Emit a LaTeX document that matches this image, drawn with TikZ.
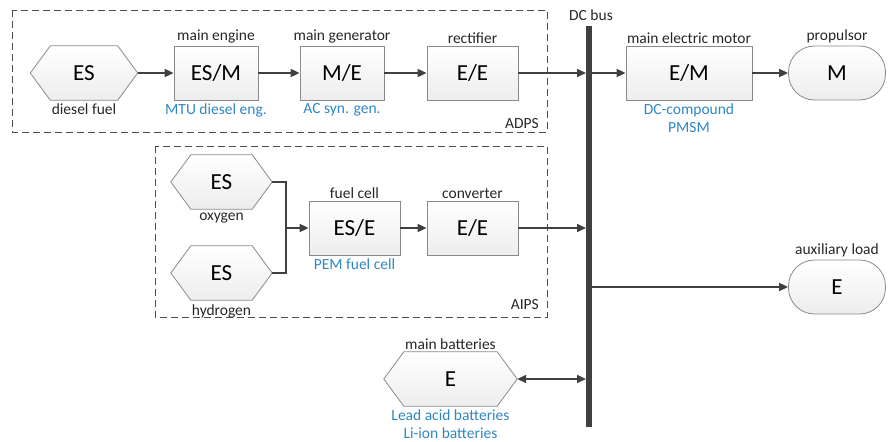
\documentclass[tikz,border=0pt]{standalone}
\usepackage{fontspec}
\setmainfont{Carlito}
\usetikzlibrary{arrows.meta,positioning}
\definecolor{ln}{HTML}{404040}
\definecolor{bd}{HTML}{8A8A8A}
\definecolor{blu}{HTML}{2F86C4}
\tikzset{
  blockbox/.style={draw=bd, line width=0.8pt, top color=white, bottom color=gray!14, minimum width=#1, minimum height=54, inner sep=0pt, font=\fontsize{23}{26}\selectfont},
  blockbox/.default=84,
  hexnode/.style={minimum width=#1, minimum height=54, inner sep=0pt, font=\fontsize{23}{26}\selectfont},
  hexnode/.default=107,
  hexfill/.style={draw=bd, line width=0.8pt, top color=white, bottom color=gray!14},
  stadium/.style={draw=bd, line width=0.8pt, top color=white, bottom color=gray!14, rounded corners=26, minimum width=97, minimum height=54, inner sep=0pt, font=\fontsize{23}{26}\selectfont},
  lab/.style={font=\fontsize{15.5}{18}\selectfont, text=black!85, inner sep=1pt},
  blab/.style={font=\fontsize{15.5}{18}\selectfont, text=blu, inner sep=1pt, align=center},
  conn/.style={draw=ln, line width=1.8pt, -{Triangle[length=9pt,width=8pt]}},
  plain/.style={draw=ln, line width=1.8pt},
  dconn/.style={draw=ln, line width=1.8pt, {Triangle[length=9pt,width=8pt]}-{Triangle[length=9pt,width=8pt]}},
  group/.style={draw=black!70, line width=0.9pt, dash pattern=on 7pt off 4pt},
  busline/.style={draw=ln, line width=5.5pt}
}
\newcommand\hexdraw[1]{\path[hexfill] (#1.west) -- ([xshift=20pt]#1.north west) -- ([xshift=-20pt]#1.north east) -- (#1.east) -- ([xshift=-20pt]#1.south east) -- ([xshift=20pt]#1.south west) -- cycle;}
\begin{document}
\begin{tikzpicture}[x=1pt,y=-1pt]
\useasboundingbox (0,0) rectangle (890,441);
% group boxes
\draw[group] (12,10) rectangle (547,132);
\draw[group] (155,146) rectangle (547,317);
\node[lab, anchor=east] (adps) at (540,124) {ADPS};
\node[lab, anchor=east] (aips) at (540,305) {AIPS};
% bus
\coordinate (bustop) at (589,26);
\coordinate (busbot) at (589,427);
\draw[busline] (bustop) -- (busbot);
\node[lab] (dcbus) at (591,15) {DC bus};
\coordinate (bin1) at (586,73);
\coordinate (bout1) at (592,73);
\coordinate (bin2) at (586,228);
\coordinate (bout3) at (592,287);
\coordinate (bin4) at (586,379);
% ADPS row
\node[hexnode] (es1) at (84,73) {};
\hexdraw{es1}
\node[hexnode] (es1t) at (84,73) {ES};
\node[lab, below=2pt of es1] (es1l) {diesel fuel};
\node[blockbox] (esm) at (216,73) {ES/M};
\node[lab, above=1pt of esm] (esml) {main engine};
\node[blab, below=2pt of esm] (esmb) {MTU diesel eng.};
\node[blockbox] (me) at (342,73) {M/E};
\node[lab, above=1pt of me] (mel) {main generator};
\node[blab, below=2pt of me] (meb) {AC syn. gen.};
\node[blockbox=91] (ee1) at (472.5,73) {E/E};
\node[lab, above=1pt of ee1] (ee1l) {rectifier};
\node[blockbox=126] (em) at (689,73) {E/M};
\node[lab, above=1pt of em] (eml) {main electric motor};
\node[blab, below=2pt of em] (emb) {DC-compound\\PMSM};
\node[stadium] (prop) at (837,73) {M};
\node[lab, above=1pt of prop] (propl) {propulsor};
\draw[conn] (es1.east) -- (esm.west);
\draw[conn] (esm.east) -- (me.west);
\draw[conn] (me.east) -- (ee1.west);
\draw[conn] (ee1.east) -- (bin1);
\draw[conn] (bout1) -- (em.west);
\draw[conn] (em.east) -- (prop.west);
% AIPS
\node[hexnode=101] (ox) at (221.5,182) {};
\hexdraw{ox}
\node[hexnode=101] (oxt) at (221.5,182) {ES};
\node[lab, below=3pt of ox] (oxl) {oxygen};
\node[hexnode=101] (hy) at (221.5,273) {};
\hexdraw{hy}
\node[hexnode=101] (hyt) at (221.5,273) {ES};
\node[lab, below=3pt of hy] (hyl) {hydrogen};
\coordinate (j) at (286,228);
\node[blockbox=91] (fc) at (354.5,228) {ES/E};
\node[lab, above=1pt of fc] (fcl) {fuel cell};
\node[blab, below=2pt of fc] (fcb) {PEM fuel cell};
\node[blockbox=91] (conv) at (472.5,228) {E/E};
\node[lab, above=1pt of conv] (convl) {converter};
\draw[plain] (ox.east) -| (j);
\draw[plain] (hy.east) -| (j);
\draw[conn] (j) -- (fc.west);
\draw[conn] (fc.east) -- (conv.west);
\draw[conn] (conv.east) -- (bin2);
% auxiliary load
\node[stadium] (aux) at (837,287) {E};
\node[lab, above=1pt of aux] (auxl) {auxiliary load};
\draw[conn] (bout3) -- (aux.west);
% batteries
\node[hexnode=133] (bat) at (450.5,379) {};
\hexdraw{bat}
\node[hexnode=133] (batt) at (450.5,379) {E};
\node[lab, above=1pt of bat] (batl) {main batteries};
\node[blab, below=2pt of bat] (batb) {Lead acid batteries\\Li-ion batteries};
\draw[dconn] (bat.east) -- (bin4);
\end{tikzpicture}
\end{document}
